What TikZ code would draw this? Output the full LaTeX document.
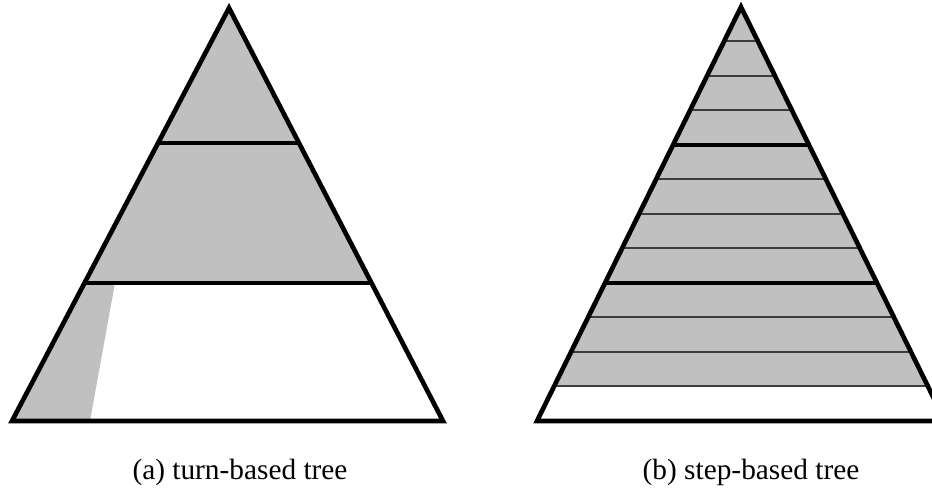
\documentclass[tikz,border=0pt]{standalone}
\usepackage{fontspec}
\setmainfont{Liberation Serif}
\usetikzlibrary{calc}
\definecolor{shadegrey}{HTML}{C0C0C0}
\definecolor{thinline}{HTML}{3C3C3C}
\begin{document}
\begin{tikzpicture}[x=0.75pt,y=-0.75pt,
  outline/.style={line width=3.5pt, line join=miter, miter limit=25},
  levelline/.style={line width=3.5pt},
  stepline/.style={line width=1.5pt, draw=thinline},
  caption/.style={font=\fontsize{22}{26}\selectfont, anchor=base, inner sep=0pt}]
\useasboundingbox (0,0) rectangle (932,498);
% ---------- (a) turn-based tree ----------
\coordinate (aT) at (229,8);
\coordinate (aL) at (12,421);
\coordinate (aR) at (443,421);
\coordinate (a1L) at ($(aT)!0.3269!(aL)$);
\coordinate (a1R) at ($(aT)!0.3269!(aR)$);
\coordinate (a2L) at ($(aT)!0.6659!(aL)$);
\coordinate (a2R) at ($(aT)!0.6659!(aR)$);
\coordinate (aS1) at (115,283);
\coordinate (aS2) at (90,421);
\fill[shadegrey] (aT) -- (a2R) -- (aS1) -- (aS2) -- (aL) -- cycle;
\draw[levelline] (a1L) -- (a1R);
\draw[levelline] (a2L) -- (a2R);
\draw[outline] (aT) -- (aL) -- (aR) -- cycle;
% ---------- (b) step-based tree ----------
\coordinate (bT) at (741,7);
\coordinate (bL) at (537,421);
\coordinate (bR) at (945,421);
\foreach \k in {1,...,11} {
  \coordinate (bL\k) at ($(bT)!{\k/12}!(bL)$);
  \coordinate (bR\k) at ($(bT)!{\k/12}!(bR)$);
}
\fill[shadegrey] (bT) -- (bR11) -- (bL11) -- cycle;
\foreach \k in {1,2,3,5,6,7,9,10,11} {
  \draw[stepline] (bL\k) -- (bR\k);
}
\draw[levelline] (bL4) -- (bR4);
\draw[levelline] (bL8) -- (bR8);
\draw[outline] (bT) -- (bL) -- (bR) -- cycle;
% ---------- captions ----------
\node[caption] (capA) at (240,480) {(a) turn-based tree};
\node[caption] (capB) at (751,480) {(b) step-based tree};
\end{tikzpicture}
\end{document}
